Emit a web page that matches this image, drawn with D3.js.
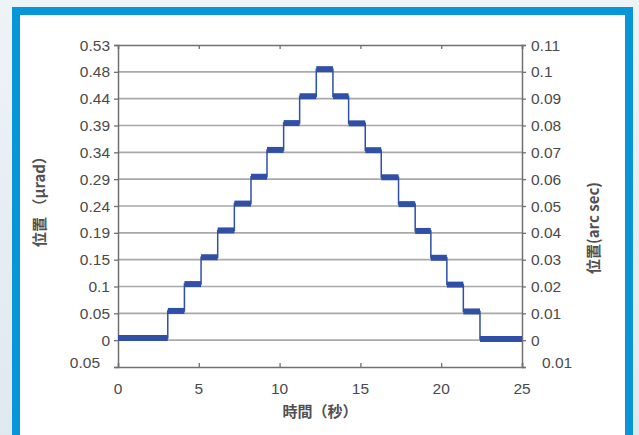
<!DOCTYPE html>
<html>
<head>
<meta charset="utf-8">
<script src="https://cdn.jsdelivr.net/npm/d3@7"></script>
<style>
  body { margin: 0; background: #e6eef3; }
  svg { display: block; }
  .tick-label { font-family: "Liberation Sans", Arial, sans-serif; font-size: 15.5px; fill: #4a4a4a; }
  .axis-title { font-family: "Noto Sans CJK JP", "Liberation Sans", sans-serif; font-size: 15px; font-weight: bold; fill: #505050; }
</style>
</head>
<body>
<div id="chart"></div>
<script>
// step times (s) where the position changes
var stepTimes = [0, 3.08, 4.11, 5.14, 6.17, 7.2, 8.23, 9.22, 10.25, 11.24, 12.27,
    13.3, 14.27, 15.3, 16.29, 17.36, 18.39, 19.36, 20.35, 21.37, 22.4];
var endTime = 25;
// plateau level after each step (arc sec)
var levels = [0.0008, 0.0109, 0.0209, 0.0309, 0.0409, 0.0509, 0.0609, 0.0709, 0.0809, 0.0909, 0.101,
    0.0909, 0.0808, 0.0708, 0.0607, 0.0507, 0.0407, 0.0307, 0.0207, 0.0107, 0.0004];

// axis ticks
var yTicks = [-0.01, 0, 0.01, 0.02, 0.03, 0.04, 0.05, 0.06, 0.07, 0.08, 0.09, 0.1, 0.11];
var leftLabels = ["0.05", "0", "0.05", "0.1", "0.15", "0.19", "0.24", "0.29", "0.34", "0.39", "0.44", "0.48", "0.53"];
var rightLabels = ["0.01", "0", "0.01", "0.02", "0.03", "0.04", "0.05", "0.06", "0.07", "0.08", "0.09", "0.1", "0.11"];
var xTicks = [0, 5, 10, 15, 20, 25];

var svgWidth = 639;
var svgHeight = 435;

var margin = { top: 45, right: 117, bottom: 68, left: 118 };
var width = svgWidth - margin.left - margin.right;
var height = svgHeight - margin.top - margin.bottom;

var svg = d3.select("#chart")
    .append("svg")
    .attr("width", svgWidth)
    .attr("height", svgHeight);

// page background + blue frame
var defs = svg.append("defs");
var grad = defs.append("linearGradient").attr("id", "bg").attr("x1", 0).attr("y1", 0).attr("x2", 0).attr("y2", 1);
grad.append("stop").attr("offset", "0%").attr("stop-color", "#eef3f6");
grad.append("stop").attr("offset", "100%").attr("stop-color", "#dfe9f0");
svg.append("rect").attr("width", svgWidth).attr("height", svgHeight).attr("fill", "url(#bg)");
svg.append("rect").attr("x", 12).attr("y", 7).attr("width", 621).attr("height", 440).attr("fill", "#0896d8");
svg.append("rect").attr("x", 20).attr("y", 15).attr("width", 605).attr("height", 430).attr("fill", "#ffffff");

var chartGroup = svg.append("g")
    .attr("transform", `translate(${margin.left}, ${margin.top})`);

var xScale = d3.scaleLinear().domain([0, 25]).range([0, width]);
var yScale = d3.scaleLinear().domain([-0.01, 0.11]).range([height, 0]);

// horizontal gridlines
chartGroup.append("g")
    .selectAll("line")
    .data(yTicks.slice(1, -1))
    .enter()
    .append("line")
    .attr("x1", 0)
    .attr("x2", width)
    .attr("y1", d => yScale(d))
    .attr("y2", d => yScale(d))
    .attr("stroke", "#a9a9a9")
    .attr("stroke-width", 1.6);

// axes (labels added separately since they don't follow the scale values)
var bottomAxis = d3.axisBottom(xScale).tickValues(xTicks).tickSize(-4).tickFormat("");
var topAxis = d3.axisTop(xScale).tickValues(xTicks).tickSize(-4).tickFormat("");
var leftAxis = d3.axisLeft(yScale).tickValues(yTicks).tickSize(4).tickFormat("");
var rightAxis = d3.axisRight(yScale).tickValues(yTicks).tickSize(4).tickFormat("");

[
    [bottomAxis, `translate(0, ${height})`],
    [topAxis, "translate(0, 0)"],
    [leftAxis, "translate(0, 0)"],
    [rightAxis, `translate(${width}, 0)`]
].forEach(a => {
    var g = chartGroup.append("g").attr("transform", a[1]).call(a[0]);
    g.select(".domain").attr("stroke", "#707070").attr("stroke-width", 1.5);
    g.selectAll(".tick line").attr("stroke", "#707070").attr("stroke-width", 1.3);
});

// tick labels
chartGroup.append("g").selectAll("text")
    .data(yTicks)
    .enter()
    .append("text")
    .classed("tick-label", true)
    .attr("x", (d, i) => i === 0 ? -18 : -8)
    .attr("y", (d, i) => yScale(d) + (i === 0 ? -5 : 0))
    .attr("dy", "0.36em")
    .attr("text-anchor", "end")
    .text((d, i) => leftLabels[i]);

chartGroup.append("g").selectAll("text")
    .data(yTicks)
    .enter()
    .append("text")
    .classed("tick-label", true)
    .attr("x", (d, i) => width + (i === 0 ? 20 : 9))
    .attr("y", (d, i) => yScale(d) + (i === 0 ? -5 : 0))
    .attr("dy", "0.36em")
    .attr("text-anchor", "start")
    .text((d, i) => rightLabels[i]);

chartGroup.append("g").selectAll("text")
    .data(xTicks)
    .enter()
    .append("text")
    .classed("tick-label", true)
    .attr("x", d => xScale(d))
    .attr("y", height + 21)
    .attr("dy", "0.36em")
    .attr("text-anchor", "middle")
    .text(d => d);

// axis titles
chartGroup.append("text")
    .classed("axis-title", true)
    .attr("x", width / 2)
    .attr("y", height + 45)
    .attr("dy", "0.36em")
    .attr("text-anchor", "middle")
    .text("時間（秒）");

svg.append("text")
    .classed("axis-title", true)
    .attr("transform", "translate(40, 198) rotate(-90)")
    .attr("dy", "0.36em")
    .attr("text-anchor", "middle")
    .text("位置 （μrad）");

svg.append("text")
    .classed("axis-title", true)
    .attr("transform", "translate(594, 228) rotate(-90)")
    .attr("dy", "0.36em")
    .attr("text-anchor", "middle")
    .text("位置(arc sec)");

// staircase trace
var traceData = stepTimes.map((t, i) => ({ t: t, v: levels[i] }));
traceData.push({ t: endTime, v: levels[levels.length - 1] });

var line = d3.line()
    .x(d => xScale(d.t))
    .y(d => yScale(d.v))
    .curve(d3.curveStepAfter);

chartGroup.append("path")
    .datum(traceData)
    .attr("d", line)
    .attr("fill", "none")
    .attr("stroke", "#2f50a6")
    .attr("stroke-width", 1.5);

// thick plateaus (noisy band in the original)
chartGroup.append("g")
    .selectAll("line")
    .data(traceData.slice(0, -1))
    .enter()
    .append("line")
    .attr("x1", d => xScale(d.t))
    .attr("x2", (d, i) => xScale(traceData[i + 1].t))
    .attr("y1", d => yScale(d.v))
    .attr("y2", d => yScale(d.v))
    .attr("stroke", "#2f50a6")
    .attr("stroke-width", 6);
</script>
</body>
</html>
